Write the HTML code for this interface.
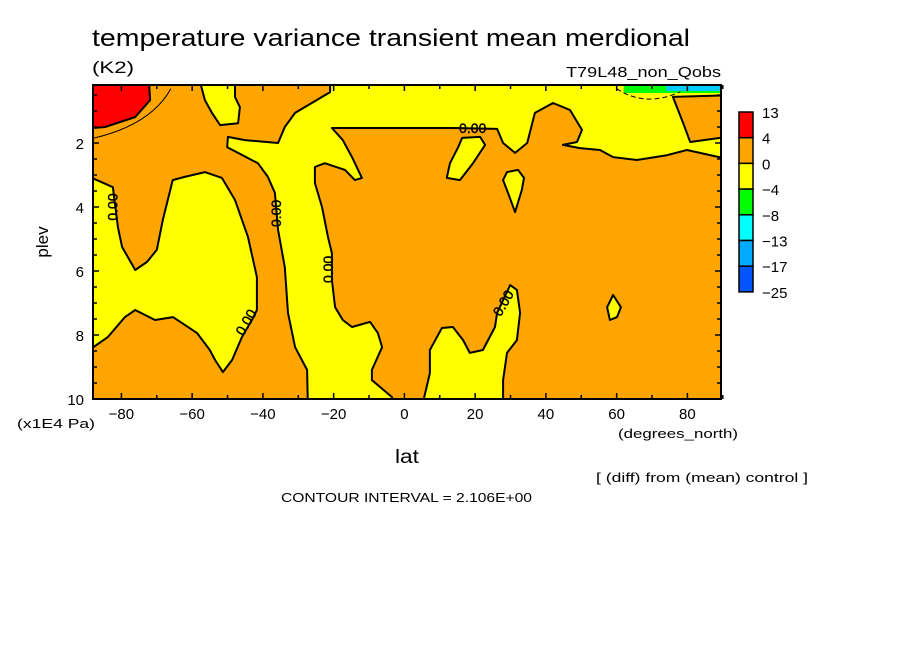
<!DOCTYPE html>
<html><head><meta charset="utf-8"><style>
body{margin:0;background:#fff;}
svg{display:block;font-family:"Liberation Sans",sans-serif;}
</style></head><body>
<svg id="chart" width="904" height="654" viewBox="0 0 904 654">
<rect width="904" height="654" fill="#fff"/>
<text x="92" y="46" font-size="24" textLength="598" lengthAdjust="spacingAndGlyphs">temperature variance transient mean merdional</text>
<text x="92" y="73" font-size="17" textLength="42" lengthAdjust="spacingAndGlyphs">(K2)</text>
<text x="566" y="77" font-size="15" textLength="155" lengthAdjust="spacingAndGlyphs">T79L48_non_Qobs</text>
<defs><clipPath id="pc"><rect x="93" y="85" width="628" height="314"/></clipPath></defs>
<g id="plot" clip-path="url(#pc)"></g>
<g id="axes"></g>
<text x="48" y="242" font-size="17" transform="rotate(-90 48 242)" text-anchor="middle">plev</text>
<text x="17" y="428" font-size="13" textLength="78" lengthAdjust="spacingAndGlyphs">(x1E4 Pa)</text>
<text x="395" y="463" font-size="19" textLength="24" lengthAdjust="spacingAndGlyphs">lat</text>
<text x="618" y="438" font-size="13" textLength="120" lengthAdjust="spacingAndGlyphs">(degrees_north)</text>
<text x="596" y="482" font-size="13" textLength="212" lengthAdjust="spacingAndGlyphs">[ (diff) from (mean) control ]</text>
<text x="281" y="502" font-size="13" textLength="251" lengthAdjust="spacingAndGlyphs">CONTOUR INTERVAL = 2.106E+00</text>
<g id="cbar"></g>
</svg>
<script>
const NS="http://www.w3.org/2000/svg";
const xTicks=[-80,-60,-40,-20,0,20,40,60,80];
const yTicks=[2,4,6,8,10];
const cbLabels=["13","4","0","-4","-8","-13","-17","-25"];
const cbColors=["#ff0000","#ffa500","#ffff00","#00ff00","#00ffff","#00aaff","#0055ff"];
// contour regions in (lat, plev[1e4 Pa])
const redLat=[-95,-72.5,-71.9,-76.1,-84.6,-95];
const redP=[-0.5,-0.5,0.66,1.19,1.5,1.59];
const aLat=[-95,-88.3,-82.4,-81.0,-79.8,-76.1,-72.8,-70.0,-68.3,-65.5,-62.1,-56.4,-51.6,-47.9,-44.2,-41.7,-41.7,-43.1,-45.9,-48.7,-51.3,-53.5,-55.0,-58.6,-65.4,-70.5,-76.1,-79.0,-83.8,-88.3,-95];
const aP=[3.09,3.09,3.38,4.63,5.25,5.97,5.72,5.34,4.41,3.16,3.06,2.91,3.09,3.78,4.94,6.19,7.22,7.53,8.06,8.78,9.16,8.78,8.47,7.94,7.44,7.53,7.22,7.44,8.06,8.41,8.41];
const bLat=[-59.2,-56.4,-54.4,-52.1,-47.0,-46.5,-47.9,-47.9];
const bP=[-0.5,0.66,1.06,1.44,1.38,0.88,0.56,-0.5];
const cLat=[-21.0,95,95,79.9,74.2,65.7,59.0,55.3,49.6,44.8,48.8,50.2,46.8,42.0,36.9,34.7,31.3,27.9,26.2,13.7,-1.2,-20.5,-17.4,-14.8,-12.0,-14.0,-16.8,-22.5,-25.3,-25.3,-23.3,-21.6,-20.5,-20.5,-19.6,-17.4,-14.8,-9.7,-7.5,-6.3,-9.2,-9.2,-3.5,-3.5,-27.3,-27.3,-27.5,-30.9,-32.9,-33.8,-35.7,-36.6,-38.6,-41.4,-47.0,-50.1,-49.9,-45.1,-35.7,-33.8,-30.9,-21.0];
const cP=[-0.5,-0.5,2.59,2.22,2.38,2.53,2.44,2.22,2.16,2.06,1.97,1.59,0.97,0.75,1.06,2.0,2.31,2.0,1.56,1.53,1.53,1.53,1.91,2.44,3.09,3.16,2.84,2.63,2.75,3.25,4.0,4.94,5.44,6.28,7.13,7.53,7.75,7.59,7.94,8.38,9.09,9.41,9.94,10.5,10.5,10.1,9.09,8.38,7.31,5.88,4.72,3.56,3.06,2.63,2.31,2.13,1.81,1.91,2.0,1.5,1.06,0.41];
const hLat=[75.9,95,95,80.8,78.8];
const hP=[0.56,0.5,1.75,1.97,1.38];
const dLat=[16.3,21.4,22.8,19.4,15.7,12.0,12.9,15.2];
const dP=[1.84,1.81,2.06,2.63,3.16,3.09,2.63,2.13];
const eLat=[29.0,32.1,33.8,33.2,31.3,29.3,27.9];
const eP=[2.91,2.84,3.09,3.47,4.16,3.56,3.16];
const fLat=[59.0,61.2,60.1,58.1,57.3];
const fP=[6.75,7.13,7.44,7.53,7.13];
const gLat=[4.4,7.2,7.2,10.6,13.7,16.6,18.5,22.2,25.6,26.2,29.9,31.8,32.7,31.8,29.0,27.9,27.9];
const gP=[10.5,9.19,8.47,7.78,7.75,8.16,8.56,8.47,7.75,7.31,6.44,6.59,7.31,8.16,8.56,9.41,10.5];
const X=lat=>404.4+lat*3.5375;
const Y=p=>79+p*32;
const plot=document.getElementById('plot');
const axes=document.getElementById('axes');
function mk(tag,attrs,parent){const e=document.createElementNS(NS,tag);for(const k in attrs)e.setAttribute(k,attrs[k]);parent.appendChild(e);return e;}
function pts(la,pa){return la.map((l,i)=>X(l).toFixed(1)+','+Y(pa[i]).toFixed(1)).join(' ');}
let bg=mk('rect',{x:93,y:85,width:628,height:314,fill:'#ffa500'},plot);


function region(la,pa,fill,name){const e=mk('polygon',{points:pts(la,pa),fill:fill,stroke:'#000','stroke-width':2,'stroke-linejoin':'round'},plot);

}
region(aLat,aP,'#ffff00','negative-region-south');
region(bLat,bP,'#ffff00','negative-region-top');
region(cLat,cP,'#ffff00','negative-region-band');
region(hLat,hP,'#ffa500','positive-region-north');
region(dLat,dP,'#ffff00','negative-island-1');
region(eLat,eP,'#ffff00','negative-island-2');
region(fLat,fP,'#ffff00','negative-island-3');
region(gLat,gP,'#ffff00','negative-region-bottom');
region(redLat,redP,'#ff0000','max-region');
let arc=mk('path',{d:`M${X(-90)},${Y(1.9)} Q${X(-72)},${Y(1.5)} ${X(-66)},${Y(0.3)}`,fill:'none',stroke:'#000','stroke-width':1},plot);


let gs=mk('rect',{x:X(62),y:85,width:X(90)-X(62),height:8,fill:'#00ff00'},plot);


let cs=mk('rect',{x:X(74),y:85,width:X(90)-X(74),height:6,fill:'#00ccff'},plot);


let dash=mk('path',{d:`M${X(60)},${Y(0.3)} Q${X(68)},${Y(0.9)} ${X(78)},${Y(0.4)}`,fill:'none',stroke:'#000','stroke-width':1,'stroke-dasharray':'5,3'},plot);


const labs=[[-82.5,4.0,-90],[-36.3,4.2,-90],[-21.6,5.95,-90],[-44.8,7.6,-60],[27.9,7.0,-60],[19.3,1.53,0]];
labs.forEach(l=>{const x=X(l[0]),y=Y(l[1]);
const t=mk('text',{x:x,y:y+5,'font-size':14,'text-anchor':'middle',transform:`rotate(${l[2]} ${x} ${y})`,stroke:'#000','stroke-width':0.4},plot);
t.textContent='0.00';

});
let fr=mk('rect',{x:93,y:85,width:628,height:314,fill:'none',stroke:'#000','stroke-width':2},axes);


for(let lat=-80;lat<=90;lat+=10){const x=X(lat);const L=(lat%20===0)?6:4;
mk('line',{x1:x,y1:399,x2:x,y2:399-L,stroke:'#000','stroke-width':1.5},axes);
mk('line',{x1:x,y1:85,x2:x,y2:85+L,stroke:'#000','stroke-width':1.5},axes);}
for(let p=0.5;p<10;p+=0.5){const y=Y(p);const L=(p%2===0)?6:4;
mk('line',{x1:93,y1:y,x2:93+L,y2:y,stroke:'#000','stroke-width':1.5},axes);
mk('line',{x1:721,y1:y,x2:721-L,y2:y,stroke:'#000','stroke-width':1.5},axes);}
xTicks.forEach(v=>{const t=mk('text',{x:X(v),y:419,'font-size':15,'text-anchor':'middle'},axes);
t.textContent=v<0?'\u2212'+(-v):String(v);

});
yTicks.forEach(v=>{const t=mk('text',{x:84,y:Y(v)+6,'font-size':15,'text-anchor':'end'},axes);
t.textContent=String(v);

});
const cb=document.getElementById('cbar');
cbColors.forEach((c,i)=>{const r=mk('rect',{x:739,y:112+i*25.7,width:14,height:25.7,fill:c,stroke:'#000','stroke-width':1.5},cb);

});
cbLabels.forEach((s,i)=>{const t=mk('text',{x:762,y:118+i*25.7,'font-size':15},cb);
t.textContent=s.replace('-','\u2212');

});
</script>
</body></html>
